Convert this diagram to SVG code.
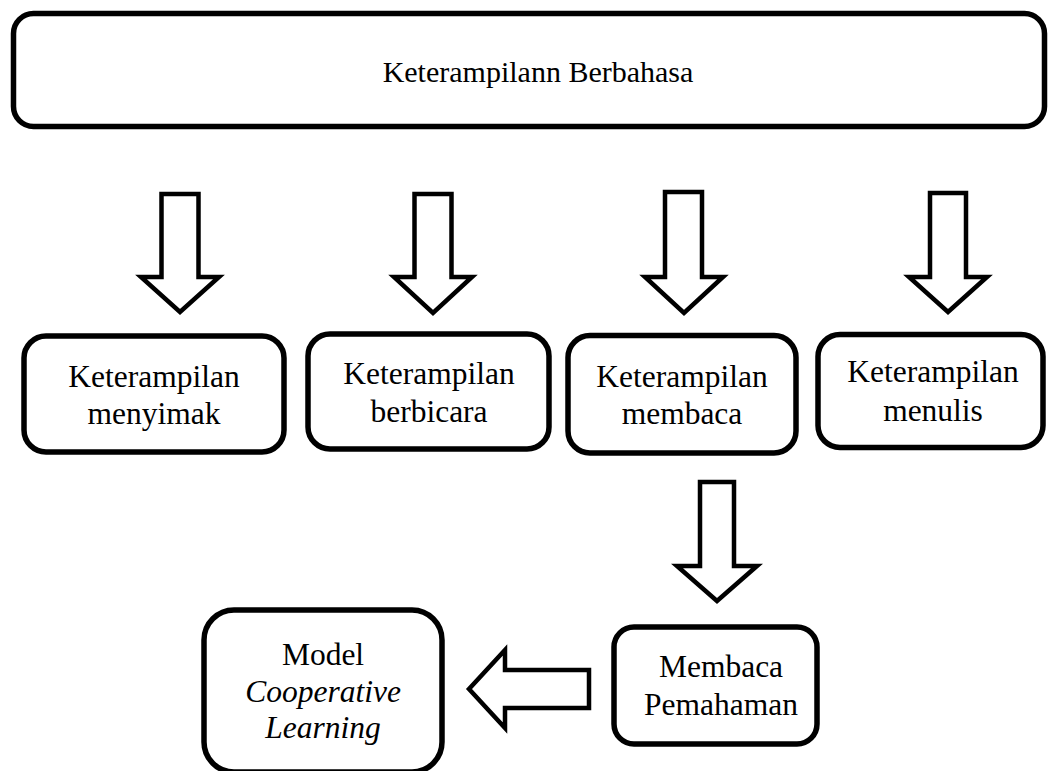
<svg xmlns="http://www.w3.org/2000/svg" width="1048" height="771" viewBox="0 0 1048 771">
  <style>
    .box { fill: #ffffff; stroke: #000000; stroke-width: 5.5; }
    .arrow { fill: #ffffff; stroke: #000000; stroke-width: 4.5; stroke-linejoin: miter; }
    .label { font-family: 'Liberation Serif', 'Times New Roman', Times, Tinos, 'DejaVu Serif', serif; font-size: 31.5px; fill: #000000; text-anchor: middle; }
    .title { font-size: 30px; }
    .it { font-style: italic; }
  </style>
  <rect width="1048" height="771" fill="#ffffff"/>

  <!-- block arrows -->
  <g id="connectors">
    <polygon class="arrow" points="161.5,194 198.5,194 198.5,277 219,277 180,312 141,277 161.5,277"/>
    <polygon class="arrow" points="414.5,194 451.5,194 451.5,277 472,277 433,313 394,277 414.5,277"/>
    <polygon class="arrow" points="665,192 702,192 702,277 723,277 684,313 645,277 665,277"/>
    <polygon class="arrow" points="930,193 966,193 966,277 987,277 948,312 909,277 930,277"/>
    <polygon class="arrow" points="700,482 734,482 734,566 757,566 717,601 677,566 700,566"/>
    <polygon class="arrow" points="589,670 505,670 505,650 469,689 505,728 505,708 589,708"/>
  </g>

  <g id="node-berbahasa">
    <rect class="box" x="13.5" y="13.5" width="1031" height="113" rx="20"/>
    <text class="label title" x="538" y="82" font-family="Liberation Serif, serif">Keterampilann Berbahasa</text>
  </g>

  <g id="node-menyimak">
    <rect class="box" x="24" y="336" width="260" height="116" rx="22"/>
    <text class="label" x="154" y="387">Keterampilan</text>
    <text class="label" x="154" y="424">menyimak</text>
  </g>

  <g id="node-berbicara">
    <rect class="box" x="308" y="334" width="241" height="115" rx="22"/>
    <text class="label" x="429" y="384">Keterampilan</text>
    <text class="label" x="429" y="422">berbicara</text>
  </g>

  <g id="node-membaca">
    <rect class="box" x="568" y="335.5" width="228" height="117.5" rx="22"/>
    <text class="label" x="682" y="387">Keterampilan</text>
    <text class="label" x="682" y="424">membaca</text>
  </g>

  <g id="node-menulis">
    <rect class="box" x="818" y="334.5" width="225" height="113" rx="22"/>
    <text class="label" x="933" y="382">Keterampilan</text>
    <text class="label" x="933" y="421">menulis</text>
  </g>

  <g id="node-pemahaman">
    <rect class="box" x="614" y="627" width="203" height="117" rx="20"/>
    <text class="label" x="721" y="677">Membaca</text>
    <text class="label" x="721" y="715">Pemahaman</text>
  </g>

  <g id="node-cooperative">
    <rect class="box" x="204" y="610" width="238" height="162" rx="30"/>
    <text class="label" x="323" y="665">Model</text>
    <text class="label it" x="323" y="702">Cooperative</text>
    <text class="label it" x="323" y="738">Learning</text>
  </g>
</svg>
